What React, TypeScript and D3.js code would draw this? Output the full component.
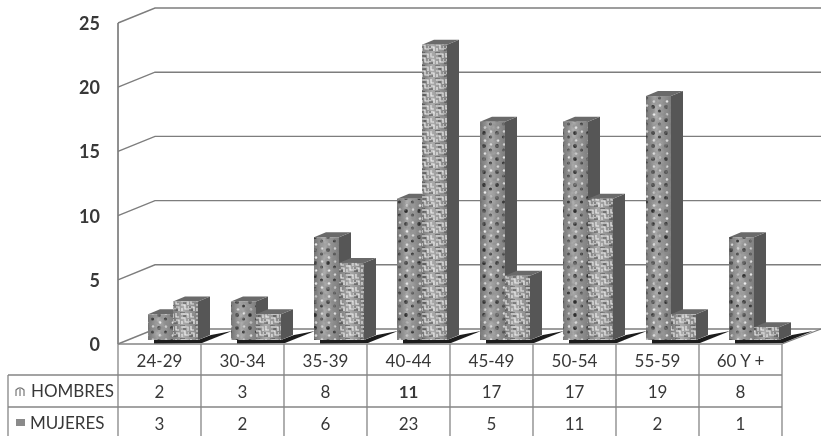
import React from "react";
import * as d3 from "d3";

const categories = ["24-29", "30-34", "35-39", "40-44", "45-49", "50-54", "55-59", "60 Y +"];
const hombres = [2, 3, 8, 11, 17, 17, 19, 8];
const mujeres = [3, 2, 6, 23, 5, 11, 2, 1];
const yTicks = [0, 5, 10, 15, 20, 25];

const W = 821, H = 436;
const x = d3.scaleBand<string>().domain(categories).range([118, 782]);
const yAxis = d3.scaleLinear().domain([0, 25]).range([344, 23]);
const barBase = 4;
const y = (v: number) => yAxis(v) - barBase;
const wallDx = 37, wallDy = -15;
const barW = 25, sideDx = 12, sideDy = -5, barOff = 30;
const gridC = "#7d7d7d", tableC = "#858585", textC = "#383838";
const font = "Lato, Carlito, 'Open Sans', sans-serif";

function Bar({ x0, v, tex, grain }: { x0: number; v: number; tex: string; grain: string }) {
  const t = y(v), b = y(0), r = x0 + barW;
  return (
    <g>
      <path d={`M${r},${t}L${r + sideDx},${t + sideDy}L${r + sideDx},${b + sideDy}L${r},${b}Z`} fill="#565656" />
      <path d={`M${x0},${t}L${x0 + sideDx},${t + sideDy}L${r + sideDx},${t + sideDy}L${r},${t}Z`} fill="#6a6a6a" />
      <g filter={`url(#${grain})`}>
        <rect x={x0} y={t} width={barW} height={b - t} fill="url(#faceShade)" />
        <rect x={x0} y={t} width={barW} height={b - t} fill={`url(#${tex})`} />
      </g>
    </g>
  );
}

export default function App() {
  const rowY = [344, 375, 407, 436];
  const cols = [...categories.map((c) => x(c)!), 782];
  const mid = (c: string) => x(c)! + x.bandwidth() / 2;
  return (
    <svg width={W} height={H} viewBox={`0 0 ${W} ${H}`} style={{ position: "absolute", left: 0, top: 0, background: "#fff" }} fontFamily={font}>
      <defs>
        <linearGradient id="faceShade" x1="0" x2="1" y1="0" y2="0">
          <stop offset="0" stopColor="#707070" />
          <stop offset="0.4" stopColor="#adadad" />
          <stop offset="1" stopColor="#7c7c7c" />
        </linearGradient>
        <pattern id="dots" width="13" height="13" patternUnits="userSpaceOnUse">
          <circle cx="3" cy="3" r="1.9" fill="#2e2e2e" />
          <circle cx="9.5" cy="7" r="1.6" fill="#3a3a3a" />
          <circle cx="4" cy="10.5" r="1.3" fill="#ececec" />
          <circle cx="10" cy="1.5" r="1.2" fill="#e4e4e4" />
        </pattern>
        <pattern id="maze" width="15" height="13" patternUnits="userSpaceOnUse">
          <path d="M1,2H8V6M11,1V5H14M1,6H5V10H11M8,8H14V12M2,9V12" fill="none" stroke="#f2f2f2" strokeWidth="1.2" />
          <path d="M3,4H6M10,7V9M0,0H5M9,11H13" fill="none" stroke="#404040" strokeWidth="1" />
        </pattern>
        <filter id="grainA" x="0" y="0" width="100%" height="100%">
          <feTurbulence type="fractalNoise" baseFrequency="0.22" numOctaves="2" seed="4" result="n" />
          <feColorMatrix in="n" type="matrix" values="0 0 0 0 0.25  0 0 0 0 0.25  0 0 0 0 0.25  1.6 0 0 0 -0.55" result="spots" />
          <feComposite in="spots" in2="SourceAlpha" operator="in" result="clip" />
          <feMerge><feMergeNode in="SourceGraphic" /><feMergeNode in="clip" /></feMerge>
        </filter>
        <filter id="grainB" x="0" y="0" width="100%" height="100%">
          <feTurbulence type="fractalNoise" baseFrequency="0.3" numOctaves="1" seed="9" result="n" />
          <feColorMatrix in="n" type="matrix" values="0 0 0 0 0.35  0 0 0 0 0.35  0 0 0 0 0.35  1.2 0 0 0 -0.5" result="spots" />
          <feComposite in="spots" in2="SourceAlpha" operator="in" result="clip" />
          <feMerge><feMergeNode in="SourceGraphic" /><feMergeNode in="clip" /></feMerge>
        </filter>
        <filter id="soft" x="-2%" y="-2%" width="104%" height="104%">
          <feGaussianBlur stdDeviation="0.7" />
        </filter>
      </defs>
      <g filter="url(#soft)">
        {yTicks.map((t) => (
          <path key={t} d={`M118,${yAxis(t)}L${118 + wallDx},${yAxis(t) + wallDy}L${W},${yAxis(t) + wallDy}`} fill="none" stroke={gridC} strokeWidth={1.4} />
        ))}
        <line x1={118} x2={118} y1={yAxis(25)} y2={yAxis(0)} stroke={gridC} strokeWidth={1.7} />
        <path d={`M782,344L${W},${yAxis(0) + wallDy}`} stroke={gridC} strokeWidth={1.2} fill="none" />
        {categories.map((c) => {
          const s = x(c)! + barOff;
          const e = s + barW * 2;
          return (
            <path key={c} d={`M${s + 6},344L${e + 4},343L${e + 34},331L${e + 13},335L${e},340L${s + 6},340Z`} fill="#1d1d1d" />
          );
        })}
        {categories.map((c, i) => {
          const x0 = x(c)! + barOff;
          return (
            <g key={c}>
              <Bar x0={x0} v={hombres[i]} tex="dots" grain="grainA" />
              <Bar x0={x0 + barW} v={mujeres[i]} tex="maze" grain="grainB" />
            </g>
          );
        })}
        <g stroke={tableC} fill="none">
          <line x1={118} x2={782} y1={rowY[0]} y2={rowY[0]} strokeWidth={1.7} />
          <line x1={8} x2={782} y1={rowY[1]} y2={rowY[1]} strokeWidth={1.5} />
          <line x1={8} x2={782} y1={rowY[2]} y2={rowY[2]} strokeWidth={1.5} />
          <line x1={8} x2={8} y1={rowY[1]} y2={H} strokeWidth={1.3} />
          {cols.map((cx) => (
            <line key={cx} x1={cx} x2={cx} y1={rowY[0]} y2={H} strokeWidth={1.3} />
          ))}
        </g>
        <path d="M16,396V390Q20,386 24,390V396M20,389V396" fill="none" stroke="#777" strokeWidth={1.2} />
        <rect x={16} y={419} width={9} height={7} fill="#8a8a8a" />
      </g>
      <g fill={textC} style={{ filter: "blur(0.5px)" }}>
        {yTicks.map((t) => (
          <text key={t} x={100} y={yAxis(t) + 7} textAnchor="end" fontSize={18} fontWeight={700}>{t}</text>
        ))}
        {categories.map((c, i) => (
          <g key={c} textAnchor="middle" fontSize={17}>
            <text x={mid(c)} y={rowY[0] + 23}>{c}</text>
            <text x={mid(c)} y={rowY[1] + 23} fontWeight={c === "40-44" ? 700 : 400}>{hombres[i]}</text>
            <text x={mid(c)} y={rowY[2] + 23}>{mujeres[i]}</text>
          </g>
        ))}
        <text x={31} y={rowY[1] + 22} fontSize={17}>HOMBRES</text>
        <text x={30} y={rowY[2] + 22} fontSize={17}>MUJERES</text>
      </g>
    </svg>
  );
}
